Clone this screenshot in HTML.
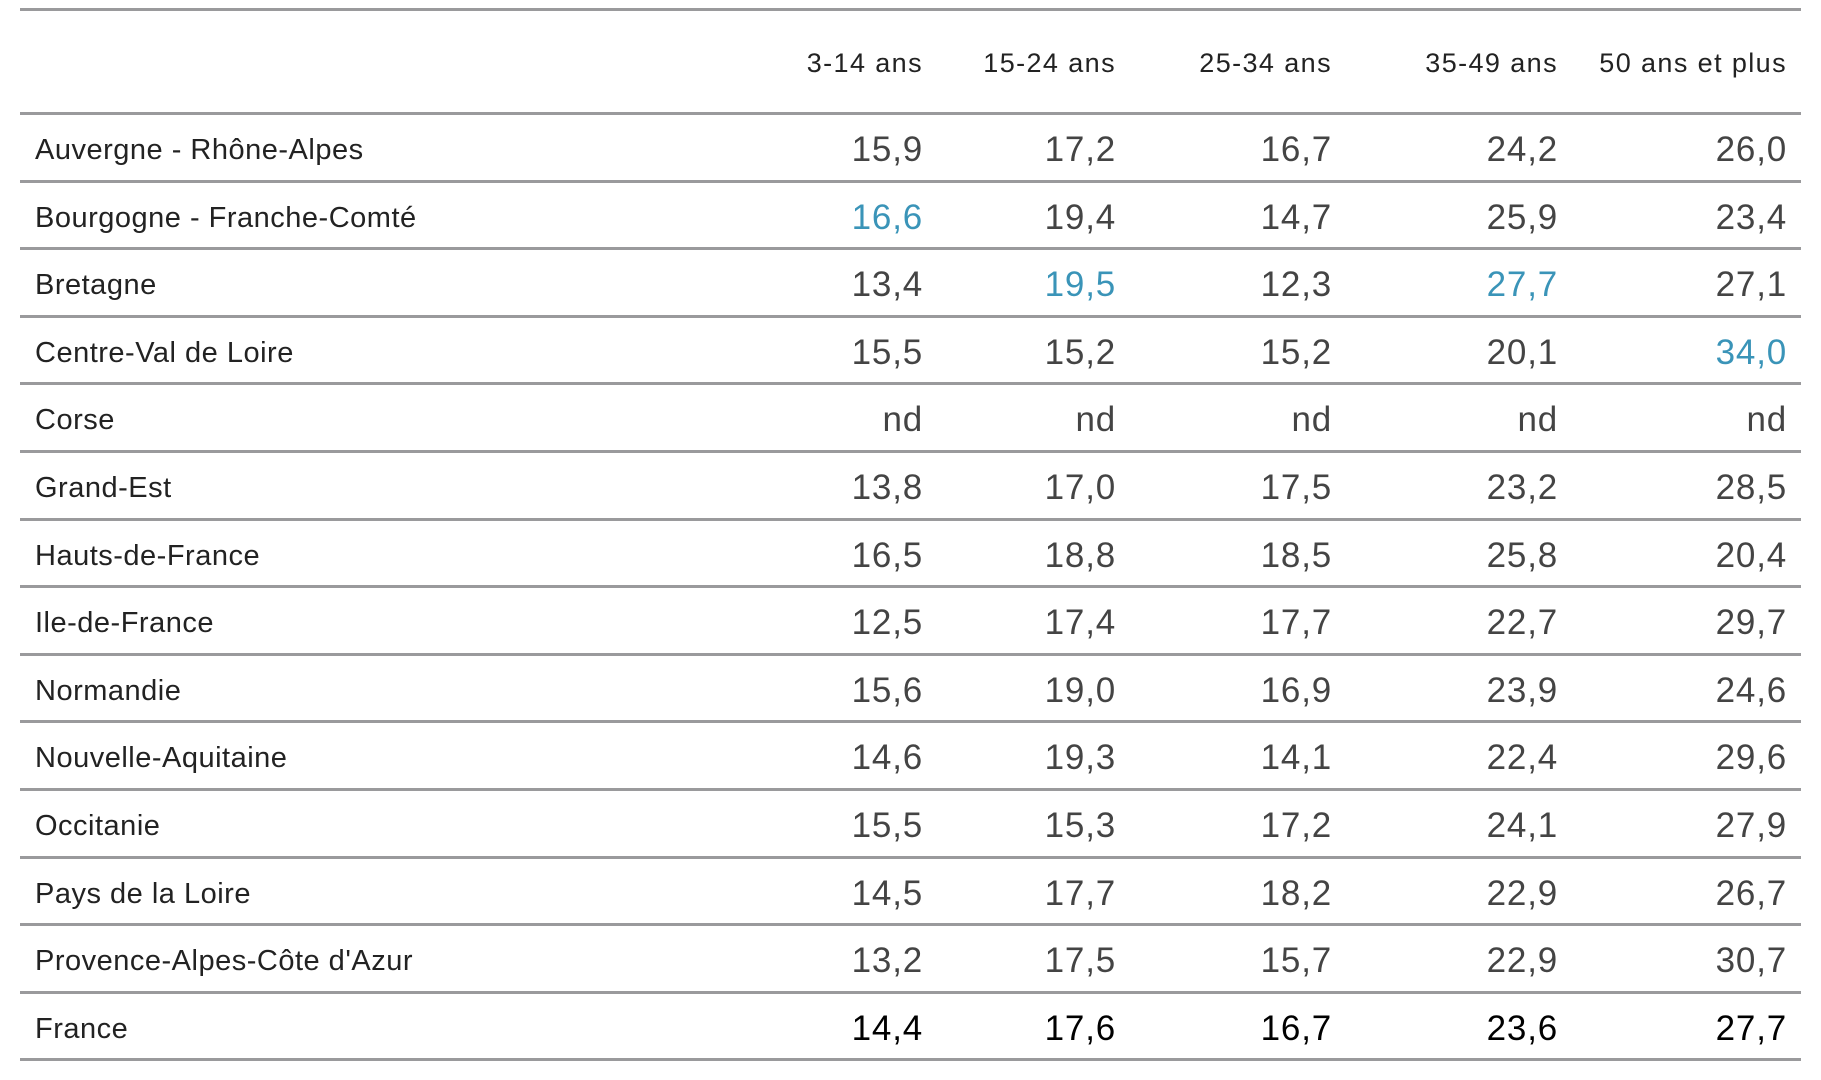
<!DOCTYPE html>
<html><head><meta charset="utf-8"><style>
body{margin:0;width:1821px;height:1080px;background:#fff;position:relative;overflow:hidden;font-family:"Liberation Sans",sans-serif;}
.l{position:absolute;left:20px;width:1781px;height:3px;background:#9a9a9c;}
.t{position:absolute;white-space:nowrap;color:#222;}
.h{font-size:27px;letter-spacing:1.4px;text-align:right;width:300px;}
.lab{font-size:29px;left:35px;letter-spacing:0.5px;}
.n{font-size:35px;text-align:right;width:200px;color:#444;letter-spacing:0.8px;}
.b{color:#3a94b8;}
.f{color:#000;}
</style></head><body>
<div class="l" style="top:8px"></div>
<div class="t h" style="top:48px;left:623px">3-14 ans</div>
<div class="t h" style="top:48px;left:816px">15-24 ans</div>
<div class="t h" style="top:48px;left:1032px">25-34 ans</div>
<div class="t h" style="top:48px;left:1258px">35-49 ans</div>
<div class="t h" style="top:48px;left:1487px">50 ans et plus</div>
<div id="rows"></div>
<script>
const d=[
["Auvergne - Rhône-Alpes","15,9","17,2","16,7","24,2","26,0"],
["Bourgogne - Franche-Comté","b16,6","19,4","14,7","25,9","23,4"],
["Bretagne","13,4","b19,5","12,3","b27,7","27,1"],
["Centre-Val de Loire","15,5","15,2","15,2","20,1","b34,0"],
["Corse","nd","nd","nd","nd","nd"],
["Grand-Est","13,8","17,0","17,5","23,2","28,5"],
["Hauts-de-France","16,5","18,8","18,5","25,8","20,4"],
["Ile-de-France","12,5","17,4","17,7","22,7","29,7"],
["Normandie","15,6","19,0","16,9","23,9","24,6"],
["Nouvelle-Aquitaine","14,6","19,3","14,1","22,4","29,6"],
["Occitanie","15,5","15,3","17,2","24,1","27,9"],
["Pays de la Loire","14,5","17,7","18,2","22,9","26,7"],
["Provence-Alpes-Côte d'Azur","13,2","17,5","15,7","22,9","30,7"],
["France","f14,4","f17,6","f16,7","f23,6","f27,7"]];
const R=[923,1116,1332,1558,1787];
let h='';const H=67.6,T=112;
h+=`<div class="l" style="top:${T}px"></div>`;
d.forEach((r,i)=>{const y=T+i*H;
h+=`<div class="t lab" style="top:${y+22}px">${r[0]}</div>`;
for(let j=1;j<6;j++){let v=r[j],c='';if(v[0]=='b'||v[0]=='f'){c=v[0];v=v.slice(1);}
h+=`<div class="t n ${c}" style="top:${y+18}px;left:${R[j-1]-200}px">${v}</div>`;}
h+=`<div class="l" style="top:${Math.round(y+H)}px"></div>`;});
document.getElementById('rows').innerHTML=h;
</script>
</body></html>
